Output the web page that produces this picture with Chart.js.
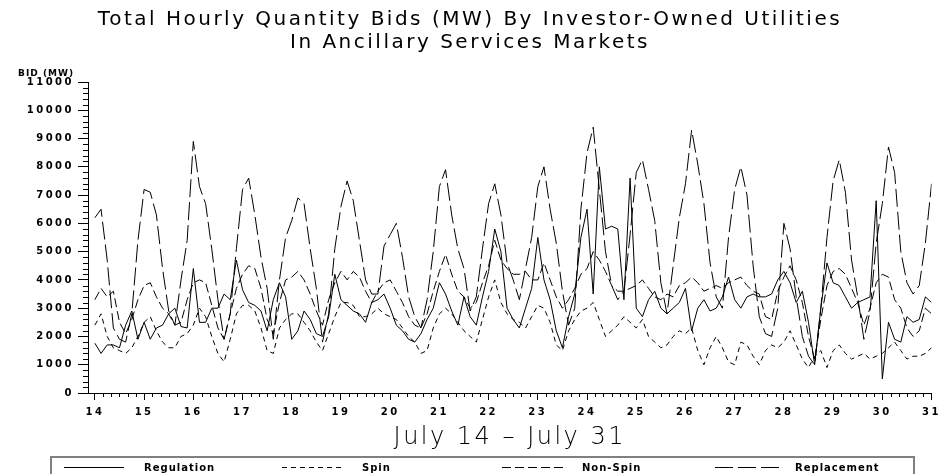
<!DOCTYPE html>
<html>
<head>
<meta charset="utf-8">
<title>Total Hourly Quantity Bids</title>
<script src="https://cdn.jsdelivr.net/npm/chart.js@4.4.1/dist/chart.umd.min.js"></script>
<style>
  html, body { margin: 0; padding: 0; background: #fff; }
  #wrap { width: 947px; height: 474px; position: relative; }
</style>
</head>
<body>
<div id="wrap"><canvas id="myChartBids"></canvas></div>
<script>
// Readings every 3 hours, July 14 00:00 -> July 31 00:00 (one row per day)
const startDay = 14;
const stepHours = 3;
const dayTicks = [14, 15, 16, 17, 18, 19, 20, 21, 22, 23, 24, 25, 26, 27, 28, 29, 30, 31];
const bidTicks = [0, 1000, 2000, 3000, 4000, 5000, 6000, 7000, 8000, 9000, 10000, 11000];

const regulation = [
    1760, 1400, 1700, 1700, 1600, 2400, 2900, 1900,
    2500, 1900, 2300, 2400, 2800, 3000, 2350, 2300,
    4400, 2500, 2500, 3000, 3000, 3500, 3300, 4700,
    3650, 3200, 3100, 2900, 2200, 3300, 3900, 3400,
    1900, 2200, 2900, 2600, 2100, 2000, 2700, 4200,
    3300, 3100, 2900, 2800, 2500, 3200, 3300, 3500,
    3000, 2400, 2200, 1900, 1800, 2100, 2600, 3000,
    3900, 3500, 2900, 2400, 3400, 2700, 2400, 3400,
    4300, 5800, 5000, 3000, 2600, 2300, 3000, 3700,
    5500, 4000, 3300, 2200, 1600, 2700, 3500, 5500,
    6500, 3500, 8000, 5800, 5900, 5800, 3300, 7600,
    3000, 2700, 3300, 3600, 3000, 2800, 3000, 3200,
    3700, 2200, 3000, 3300, 2900, 3000, 3400, 4100,
    3300, 3000, 3400, 3500, 3400, 3400, 3500, 4000,
    4300, 3900, 3200, 3600, 2500, 1000, 3000, 4600,
    3900, 3800, 3400, 3000, 3200, 3300, 3400, 6800,
    500, 2500, 1900, 1800, 2700, 2500, 2600, 3400,
    3200
];
const spin = [
    2400, 2800, 2000, 1600, 1500, 1400, 1600, 2000,
    2500, 2700, 2200, 1800, 1600, 1600, 2000, 2100,
    2400, 3000, 2700, 2000, 1400, 1100, 1900, 2800,
    3100, 3100, 2900, 2300, 1500, 1400, 2300, 2600,
    2800, 2800, 2500, 2200, 1800, 1500, 2100, 2700,
    3200, 3200, 3100, 2700, 2700, 2800, 3000, 2800,
    2700, 2600, 2300, 2000, 1800, 1400, 1500, 2300,
    2800, 3000, 2800, 2500, 2200, 2000, 1800, 2600,
    3400, 4000, 3200, 2800, 2600, 2500, 2300, 2700,
    3100, 3000, 2500, 1700, 1500, 2200, 2600, 2900,
    3000, 3200, 2600, 2000, 2200, 2400, 2700, 2500,
    2300, 2600, 2000, 1800, 1600, 1700, 2000, 2200,
    2100, 2300, 1500, 1000, 1600, 2000, 1600, 1100,
    1000, 1800, 1700, 1300, 1000, 1500, 1700, 1600,
    1800, 2200, 1700, 1200, 900, 1300, 1500, 900,
    1500, 1700, 1400, 1200, 1300, 1400, 1200, 1300,
    1400, 1600, 1800, 1500, 1200, 1300, 1300, 1400,
    1600
];
const nonSpin = [
    3300, 3700, 3400, 3600, 2500, 2100, 2600, 3300,
    3800, 3900, 3400, 3000, 2800, 2400, 2500, 3300,
    3900, 4000, 3900, 3100, 2300, 1900, 2800, 3700,
    4200, 4500, 4400, 3700, 2600, 2100, 3200, 4000,
    4100, 4300, 4000, 3500, 2900, 2400, 3300, 3900,
    4300, 4000, 4300, 4100, 3600, 3200, 3600, 3900,
    4000, 3600, 3200, 2700, 2400, 2300, 2800, 3600,
    4300, 4900, 4200, 3600, 3400, 3000, 3200, 3900,
    4500, 5400, 4700, 4400, 4200, 4200, 4300, 4000,
    4000, 4600, 4000, 3400, 3000, 3300, 3700, 4200,
    4400, 5000, 4700, 4300, 3800, 3600, 3600, 3700,
    3800, 4000, 3700, 3400, 3300, 3500, 3400, 3800,
    3900, 4100, 3900, 3600, 3700, 3800, 3700, 3900,
    4000, 4100, 3800, 3600, 3500, 2700, 2600, 3600,
    4100, 4500, 4000, 3200, 2000, 1200, 2600, 3800,
    4300, 4400, 4200, 3700, 3200, 2400, 3000, 3900,
    4200, 4100, 3300, 3000, 2300, 2000, 2200, 3000,
    2800
];
const replacement = [
    6200, 6500, 4700, 2300, 1900, 1800, 2800, 5400,
    7200, 7100, 6300, 4400, 2900, 2400, 4000, 5400,
    8900, 7300, 6700, 5100, 3300, 1900, 2800, 5100,
    7200, 7600, 6300, 4800, 3700, 1900, 4000, 5500,
    6100, 6900, 6700, 5100, 3700, 1800, 2800, 5100,
    6600, 7500, 6800, 5400, 4000, 3500, 3500, 5200,
    5600, 6000, 4800, 3400, 2700, 2300, 3300, 5000,
    7300, 7900, 6300, 5100, 4400, 2900, 3400, 5100,
    6700, 7400, 6300, 4600, 4000, 3300, 4400, 5500,
    7300, 8000, 6500, 5300, 3600, 2400, 3000, 6500,
    8500, 9400, 7200, 5000, 3800, 3300, 3600, 5600,
    7800, 8250, 7200, 6100, 3900, 2800, 4500, 6200,
    7400, 9300, 8100, 6700, 4600, 3400, 3000, 5500,
    7200, 8000, 7000, 4500, 2700, 2100, 2000, 3000,
    6000, 5100, 3400, 2000, 1300, 1000, 3000, 5500,
    7500, 8250, 7100, 4700, 3400, 1900, 2900, 5300,
    6700, 8700, 7800, 5000, 3900, 3500, 3800, 5300,
    7400
];

function toPoints(values) {
    return values.map((v, i) => ({ x: startDay + (i * stepHours) / 24, y: v }));
}

const tickFont = { family: "DejaVu Sans", size: 10, weight: "bold" };

// wide lettering like the original plot
const spacingPlugin = {
    id: "spacing",
    beforeLayout(chart) { chart.ctx.letterSpacing = "2.5px"; },
    beforeDraw(chart) { chart.ctx.letterSpacing = "2.5px"; },
};

// minor ticks, axis label and the boxed legend
const extrasPlugin = {
    id: "extras",
    afterDraw(chart) {
        const ctx = chart.ctx;
        const xs = chart.scales.x;
        const ys = chart.scales.y;
        const area = chart.chartArea;
        ctx.save();
        ctx.strokeStyle = "#000";
        ctx.lineWidth = 1;
        ctx.setLineDash([]);
        ctx.beginPath();
        for (let v = 0; v <= 11000; v += 200) {
            if (v % 1000 === 0) continue;
            const py = Math.round(ys.getPixelForValue(v)) + 0.5;
            ctx.moveTo(area.left - 5, py);
            ctx.lineTo(area.left, py);
        }
        for (let d = 14; d < 31; d++) {
            for (let h = 4; h < 24; h += 4) {
                const px = Math.round(xs.getPixelForValue(d + h / 24)) + 0.5;
                ctx.moveTo(px, area.bottom);
                ctx.lineTo(px, area.bottom + 4);
            }
        }
        ctx.stroke();

        ctx.fillStyle = "#000";
        ctx.letterSpacing = "1px";
        ctx.font = "bold 9px 'DejaVu Sans'";
        ctx.textAlign = "right";
        ctx.textBaseline = "middle";
        ctx.fillText("BID (MW)", 74, 74);

        // legend
        ctx.strokeStyle = "#808080";
        ctx.lineWidth = 2;
        ctx.strokeRect(51, 457, 863, 25);
        const starts = [64, 282, 502, 715];
        const lens = [60, 59, 61, 64];
        ctx.font = "bold 10px 'DejaVu Sans'";
        ctx.textAlign = "left";
        ctx.strokeStyle = "#000";
        ctx.lineWidth = 1;
        chart.data.datasets.forEach((ds, i) => {
            ctx.setLineDash(ds.borderDash);
            ctx.beginPath();
            ctx.moveTo(starts[i], 467.5);
            ctx.lineTo(starts[i] + lens[i], 467.5);
            ctx.stroke();
            ctx.fillText(ds.label, starts[i] + 80, 468);
        });
        ctx.restore();
    },
};

const ctxBids = document.getElementById("myChartBids").getContext("2d");
let myChartBids = new Chart(ctxBids, {
    type: "line",
    data: {
        datasets: [
            {
                label: "Regulation",
                data: toPoints(regulation),
                borderColor: "#000",
                borderWidth: 1,
                borderDash: [],
            },
            {
                label: "Spin",
                data: toPoints(spin),
                borderColor: "#000",
                borderWidth: 1,
                borderDash: [5, 4],
            },
            {
                label: "Non-Spin",
                data: toPoints(nonSpin),
                borderColor: "#000",
                borderWidth: 1,
                borderDash: [9, 4],
            },
            {
                label: "Replacement",
                data: toPoints(replacement),
                borderColor: "#000",
                borderWidth: 1,
                borderDash: [18, 5],
            },
        ],
    },
    options: {
        responsive: true,
        maintainAspectRatio: false,
        animation: false,
        layout: { padding: { left: 0, right: 7, top: 0, bottom: 17 } },
        elements: { point: { radius: 0 }, line: { tension: 0 } },
        plugins: {
            legend: { display: false },
            tooltip: { enabled: false },
            title: {
                display: true,
                text: [
                    "Total Hourly Quantity Bids (MW) By Investor-Owned Utilities",
                    "In Ancillary Services Markets",
                ],
                color: "#000",
                font: { family: "DejaVu Sans", size: 20, weight: "normal", lineHeight: 1.15 },
                padding: { top: 8, bottom: 28 },
            },
        },
        scales: {
            x: {
                type: "linear",
                min: 13.86,
                max: 31,
                afterBuildTicks: (scale) => { scale.ticks = dayTicks.map((v) => ({ value: v })); },
                afterFit: (scale) => { scale.height = 64; },
                grid: { display: true, drawOnChartArea: false, drawTicks: true, tickLength: 7, color: "#000", tickColor: "#000" },
                border: { display: true, color: "#000", width: 1 },
                ticks: { autoSkip: false, maxRotation: 0, padding: 6, color: "#000", font: tickFont },
                title: {
                    display: true,
                    text: "July 14 – July 31",
                    color: "#000",
                    font: { family: "DejaVu Sans", size: 24, weight: 200, lineHeight: 1.2 },
                    padding: { top: 0, bottom: 5 },
                },
            },
            y: {
                type: "linear",
                min: 0,
                max: 11000,
                afterBuildTicks: (scale) => { scale.ticks = bidTicks.map((v) => ({ value: v })); },
                afterFit: (scale) => { scale.width = 88; },
                grid: { display: true, drawOnChartArea: false, drawTicks: true, tickLength: 10, color: "#000", tickColor: "#000" },
                border: { display: true, color: "#000", width: 1 },
                ticks: { padding: 4, color: "#000", font: tickFont, callback: (v) => String(v) },
            },
        },
    },
    plugins: [spacingPlugin, extrasPlugin],
});
</script>
</body>
</html>
